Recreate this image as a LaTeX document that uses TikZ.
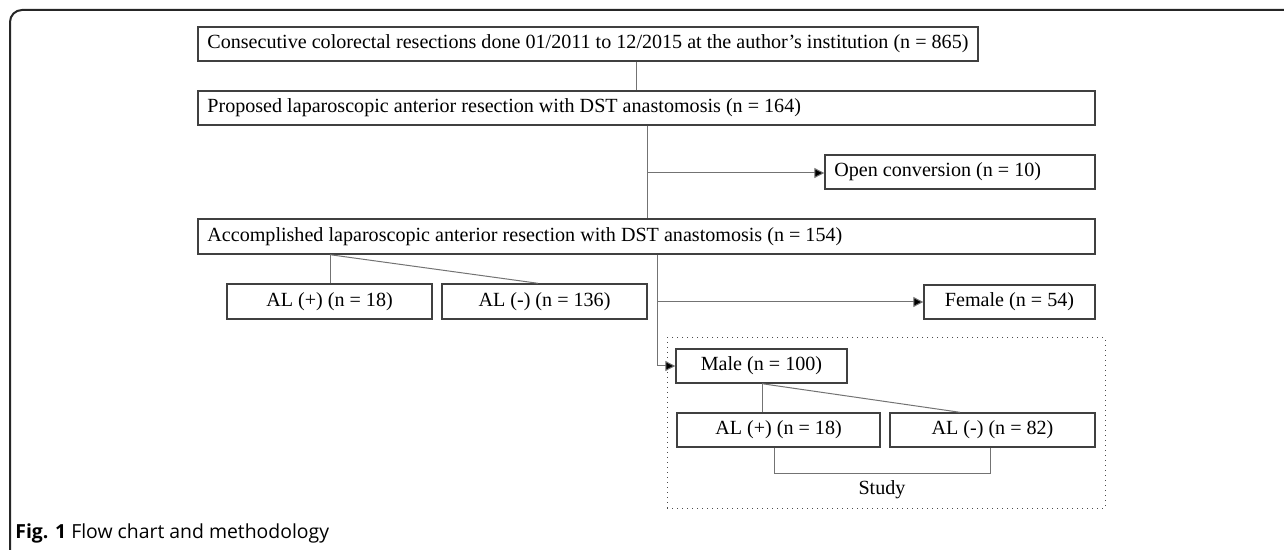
\documentclass[tikz,border=0pt]{standalone}
\usepackage{fontspec}
\setmainfont{Liberation Serif}
\newfontfamily\capfont{Open Sans}
\usetikzlibrary{arrows.meta}
\tikzset{
  box/.style={draw=black!75, line width=0.7pt, inner sep=0pt, font=\fontsize{10.05}{12}\selectfont},
  ltext/.style={anchor=west, inner sep=0pt, font=\fontsize{10.05}{12}\selectfont},
  conn/.style={draw=black!55, line width=0.5pt},
  arr/.style={conn, -{Triangle[length=5pt,width=5pt,fill=black]}},
}
\begin{document}
\begin{tikzpicture}[x=0.5pt,y=-0.5pt]
\useasboundingbox (0,0) rectangle (1284,550);
% outer frame
\draw[line width=1pt, black!85, rounded corners=6pt] (1284,10) -- (10,10) -- (10,550);
% nodes
\node[box, minimum width=390pt, minimum height=17pt] (b1) at (588,44) {};
\node[ltext] (t1) at (207,44) {Consecutive colorectal resections done 01/2011 to 12/2015 at the author’s institution (n = 865)};
\node[box, minimum width=448.5pt, minimum height=17pt] (b2) at (646.5,108) {};
\node[ltext] (t2) at (207,108) {Proposed laparoscopic anterior resection with DST anastomosis (n = 164)};
\node[box, minimum width=135pt, minimum height=17pt] (oc) at (960,172) {};
\node[ltext] (toc) at (834,172) {Open conversion (n = 10)};
\node[box, minimum width=448.5pt, minimum height=17.5pt] (b3) at (646.5,236.5) {};
\node[ltext] (t3) at (207,236.5) {Accomplished laparoscopic anterior resection with DST anastomosis (n = 154)};
\node[box, minimum width=102.5pt, minimum height=17.5pt] (alp1) at (329.5,301.5) {AL (+) (n = 18)};
\node[box, minimum width=102.5pt, minimum height=17.5pt] (alm1) at (544.5,301.5) {AL (-) (n = 136)};
\node[box, minimum width=85.5pt, minimum height=17pt] (fem) at (1009.5,302) {Female (n = 54)};
\node[draw=black!70, dotted, line width=0.5pt, minimum width=219pt, minimum height=85pt, inner sep=0pt] (study) at (886,423) {};
\node[box, minimum width=85.5pt, minimum height=17pt] (male) at (761.5,366) {Male (n = 100)};
\node[box, minimum width=101.5pt, minimum height=17pt] (alp2) at (778.5,430) {AL (+) (n = 18)};
\node[box, minimum width=102.5pt, minimum height=17pt] (alm2) at (992.5,430) {AL (-) (n = 82)};
\node[inner sep=0pt, font=\fontsize{10.05}{12}\selectfont] (lstudy) at (882,490) {Study};
% connectors
\draw[conn] (b1.south -| 636,0) -- (b2.north -| 636,0);
\draw[conn] (b2.south -| 647,0) -- (b3.north -| 647,0);
\coordinate (j1) at (647,173);
\draw[arr] (j1) -- (j1 -| oc.west);
\draw[conn] (b3.south -| 330,0) -- (alp1.north -| 330,0);
\draw[conn] (b3.south -| 330,0) -- (alm1.north -| 538,0);
\coordinate (j2) at (657,302);
\coordinate (j3) at (657,366);
\draw[arr] (b3.south -| 657,0) -- (j3) -- (male.west);
\draw[arr] (j2) -- (fem.west);
\draw[conn] (male.south -| 762,0) -- (alp2.north -| 762,0);
\draw[conn] (male.south -| 762,0) -- (alm2.north -| 960,0);
\draw[conn] (alp2.south -| 774,0) -- (774,473) -- (990,473) -- (alm2.south -| 990,0);
% caption
\node[anchor=base west, inner sep=0pt, font=\capfont\fontsize{9.7}{11}\selectfont] (cap) at (15,538) {\textbf{Fig. 1} Flow chart and methodology};
\end{tikzpicture}
\end{document}
